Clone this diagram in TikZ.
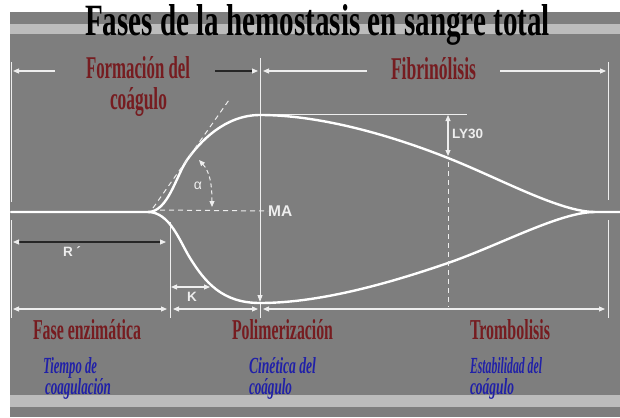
\documentclass[tikz,border=0pt]{standalone}
\usepackage{fontspec}
\setmainfont{Liberation Serif}
\newfontfamily\labfont{Liberation Sans}
\usetikzlibrary{arrows.meta}
\definecolor{bg}{RGB}{126,126,126}
\definecolor{band}{RGB}{188,188,188}
\definecolor{dred}{RGB}{118,28,32}
\definecolor{dblue}{RGB}{32,32,168}
\definecolor{wline}{RGB}{238,238,238}
\newcommand{\fitt}[3]{\resizebox{#1pt}{#2pt}{#3}}
\begin{document}
\begin{tikzpicture}[x=1pt,y=-1pt,
  lbl/.style={inner sep=0pt, outer sep=0pt, anchor=base west},
  titlet/.style={lbl, text=black, font=\bfseries},
  redt/.style={lbl, text=dred, font=\bfseries},
  bluet/.style={lbl, text=dblue, font=\bfseries\itshape},
  whitet/.style={inner sep=0pt, text=wline, font=\labfont\bfseries},
  curve/.style={draw=white, line width=2.4pt, line cap=round},
  thinln/.style={draw=wline, line width=0.9pt},
  dashln/.style={draw=wline, line width=1pt, dash pattern=on 5pt off 4pt},
  tip/.style={Triangle[length=6pt,width=5pt]},
  dimboth/.style={draw=wline, line width=1.1pt, {Triangle[length=6pt,width=5pt]}-{Triangle[length=6pt,width=5pt]}},
  dimleft/.style={draw=wline, line width=1.1pt, {Triangle[length=6pt,width=5pt]}-},
  dimright/.style={draw=wline, line width=1.1pt, -{Triangle[length=6pt,width=5pt]}},
]
\useasboundingbox (0,0) rectangle (620,417);
% background
\fill[white] (0,0) rectangle (620,417);
\fill[bg] (10,12) rectangle (620,417);
\fill[band] (10,24) rectangle (620,34);
\fill[band] (10,395) rectangle (620,407);

% title
\node[titlet] (title) at (85,36) {\fitt{465}{31}{Fases de la hemostasis en sangre total}};

% coordinates
\coordinate (Ltop) at (11,62);   \coordinate (Lgap1) at (11,202);
\coordinate (Lgap2) at (11,220); \coordinate (Lbot) at (11,318);
\coordinate (Rtop) at (608,62);  \coordinate (Rgap1) at (608,200);
\coordinate (Rgap2) at (608,220);\coordinate (Rbot) at (608,318);
\coordinate (Mtop) at (260,58);  \coordinate (Mmin) at (260,302);
\coordinate (Mbot) at (260,318);
\coordinate (Ktop) at (170,222); \coordinate (Kbot) at (170,318);
\coordinate (split) at (148,212);
\coordinate (start) at (11,212);
\coordinate (join) at (595,212);
\coordinate (end) at (620,212);
\coordinate (maxU) at (260,115);
\coordinate (minL) at (260,303);

% verticals
\draw[thinln] (Ltop) -- (Lgap1);
\draw[thinln] (Lgap2) -- (Lbot);
\draw[thinln] (Rtop) -- (Rgap1);
\draw[thinln] (Rgap2) -- (Rbot);
\draw[thinln, -{Triangle[length=7pt,width=5pt]}] (Mtop) -- (Mmin);
\draw[thinln] (Mmin) -- (Mbot);
\draw[thinln] (Ktop) -- (Kbot);

% top reference line
\coordinate (LYh) at (467,114);
\draw[thinln] (260,114) -- (LYh);

% curves
\draw[curve] (start) -- (split)
  .. controls (168,212) and (176,176) .. (187,160)
  .. controls (200,141.5) and (225,115) .. (maxU)
  .. controls (320,115) and (390,135) .. (448,158)
  .. controls (500,178.6) and (560,212) .. (join) -- (end);
\draw[curve] (split)
  .. controls (170,212) and (180,242) .. (190,258)
  .. controls (205,282) and (222,303) .. (minL)
  .. controls (320,303) and (390,283) .. (448,263)
  .. controls (500,245) and (560,212) .. (join);

% tangent and MA dashed
\coordinate (tanA) at (153,208);
\coordinate (tanB) at (229,100);
\draw[dashln] (tanA) -- (tanB);
\coordinate (maA) at (160,210);
\node[whitet, anchor=west, font=\labfont\bfseries\fontsize{15.5}{16}\selectfont] (MA) at (268,211) {MA};
\draw[dashln] (maA) -- (MA.west);

% alpha arc
\coordinate (alA) at (199,160);
\coordinate (alB) at (212,207);
\draw[draw=wline, line width=1pt, dash pattern=on 4pt off 3pt, {Triangle[length=6pt,width=5pt]}-{Triangle[length=6pt,width=5pt]}]
  (alA) .. controls (210,172) and (212,185) .. (alB);
\node[whitet, font=\labfont\fontsize{14}{14}\selectfont] (alpha) at (198,186) {α};

% LY30
\coordinate (LYa) at (448,115);
\coordinate (LYb) at (448,156);
\draw[dimboth] (LYa) -- (LYb);
\node[whitet, anchor=west, font=\labfont\bfseries\fontsize{13.5}{14}\selectfont] (LY) at (452,134) {LY30};
\coordinate (LYd1) at (448,162);
\coordinate (LYd2) at (448,307);
\draw[dashln] (LYd1) -- (LYd2);

% R' arrow
\coordinate (Ra) at (13,242);
\coordinate (Rb) at (166,242);
\draw[draw=black!85, line width=1.1pt, {Triangle[length=6pt,width=5pt,color=wline]}-{Triangle[length=6pt,width=5pt,color=wline]}] (Ra) -- (Rb);
\node[whitet, font=\labfont\bfseries\fontsize{13.5}{14}\selectfont] (Rl) at (72,252) {R ´};

% K arrow
\coordinate (Ka) at (171,287);
\coordinate (Kb) at (210,287);
\draw[dimboth] (Ka) -- (Kb);
\node[whitet, font=\labfont\bfseries\fontsize{13.5}{14}\selectfont] (Kl) at (192,297) {K};

% bottom arrows
\coordinate (B1a) at (13,309);  \coordinate (B1b) at (167,309);
\coordinate (B2a) at (173,309); \coordinate (B2b) at (258,309);
\coordinate (B3a) at (263,309); \coordinate (B3b) at (605,309);
\draw[dimboth] (B1a) -- (B1b);
\draw[dimboth] (B2a) -- (B2b);
\draw[dimboth] (B3a) -- (B3b);

% top arrows
\coordinate (T1a) at (13,71);  \coordinate (T1b) at (55,71);
\coordinate (T2a) at (215,71); \coordinate (T2b) at (258,71);
\coordinate (T3a) at (263,71); \coordinate (T3b) at (367,71);
\coordinate (T4a) at (500,71); \coordinate (T4b) at (606,71);
\draw[dimleft] (T1a) -- (T1b);
\draw[draw=black!85, line width=1.1pt, -{Triangle[length=6pt,width=5pt,color=wline]}] (T2a) -- (T2b);
\draw[dimleft] (T3a) -- (T3b);
\draw[dimright] (T4a) -- (T4b);

% red labels
\node[redt] (form1) at (86,79) {\fitt{104}{22}{Formación del}};
\node[redt] (form2) at (110,110) {\fitt{57}{22}{coágulo}};
\node[redt] (fibr) at (391,80) {\fitt{85}{22}{Fibrinólisis}};
\node[redt] (fase) at (33,339) {\fitt{108}{20}{Fase enzimática}};
\node[redt] (poli) at (232,339) {\fitt{101}{20}{Polimerización}};
\node[redt] (trom) at (470,339) {\fitt{80}{20}{Trombolisis}};

% blue labels
\node[bluet] (b1a) at (43,373) {\fitt{54}{16}{Tiempo de}};
\node[bluet] (b1b) at (45,394) {\fitt{66}{16}{coagulación}};
\node[bluet] (b2a) at (249,373) {\fitt{67}{16}{Cinética del}};
\node[bluet] (b2b) at (249,394) {\fitt{43}{16}{coágulo}};
\node[bluet] (b3a) at (470,373) {\fitt{72}{16}{Estabilidad del}};
\node[bluet] (b3b) at (470,394) {\fitt{44}{16}{coágulo}};
\end{tikzpicture}
\end{document}
